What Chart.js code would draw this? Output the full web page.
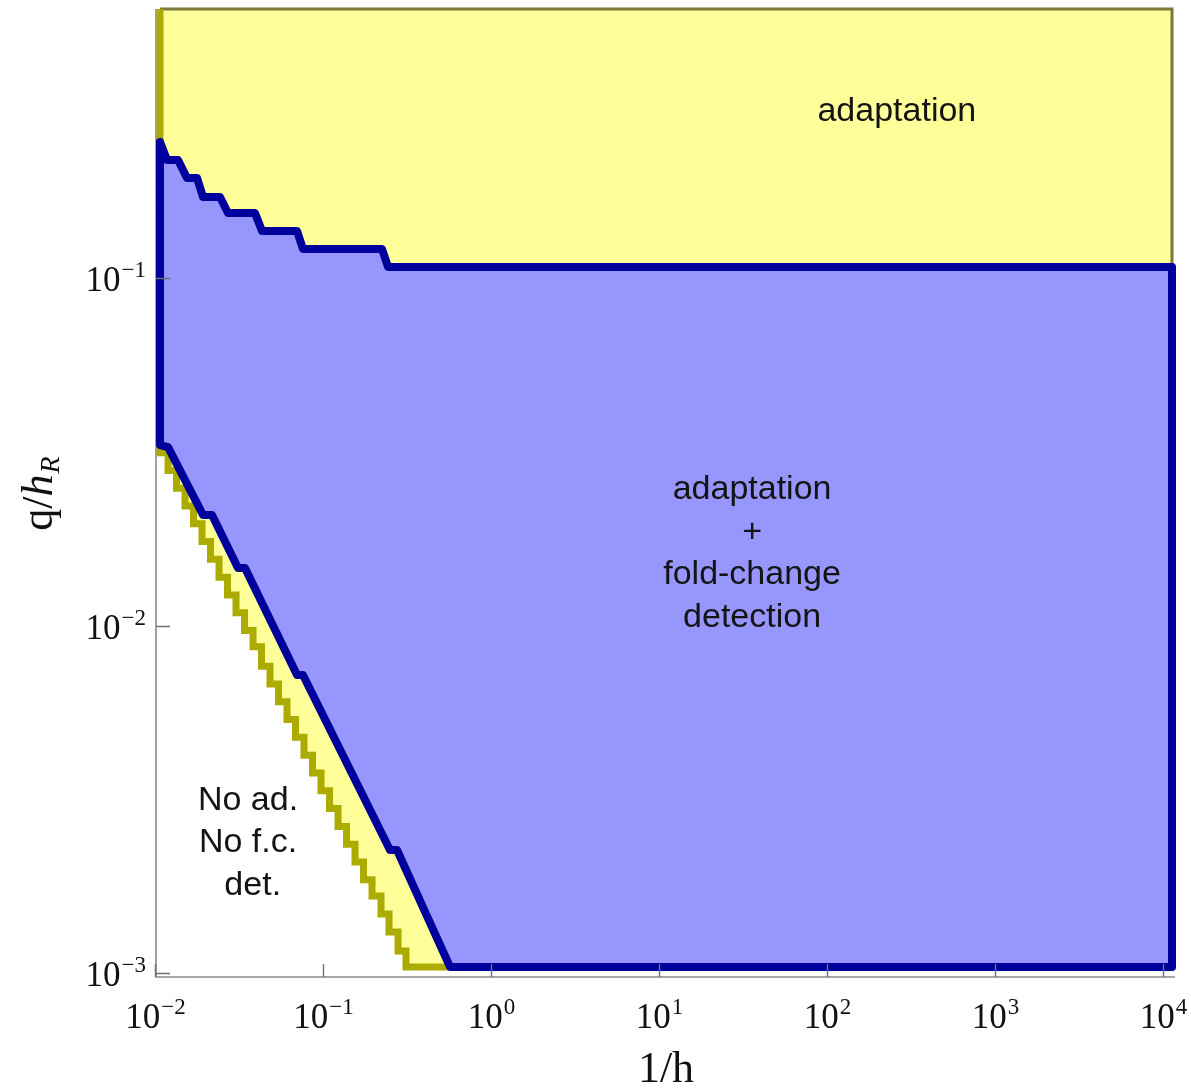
<!DOCTYPE html>
<html>
<head>
<meta charset="utf-8">
<title>adaptation / fold-change detection</title>
<script src="https://cdn.jsdelivr.net/npm/chart.js@4.4.1/dist/chart.umd.min.js"></script>
<style>
html, body { margin: 0; padding: 0; background: #fff; }
</style>
</head>
<body>
<canvas id="mycanvas" width="1191" height="1088"></canvas>
<script>
// axis ranges: 1/h (x) and q/hR (y)
var xMin = 0.01008, xMax = 11720;
var yMin = 0.000975, yMax = 0.5953;

var xTicks = [0.01, 0.1, 1, 10, 100, 1000, 10000];
var xTickExp = ['\u22122', '\u22121', '0', '1', '2', '3', '4'];
var yTicks = [0.001, 0.01, 0.1];
var yTickExp = ['\u22123', '\u22122', '\u22121'];

// edges of the computed region
var edgeLeft = 0.01065, edgeRight = 11250, edgeBottom = 0.001042;

// upper border of the adaptation + fold-change region
var upperX = [0.01065, 0.01172, 0.01363, 0.01542, 0.01769, 0.01920, 0.02424, 0.02704, 0.03916, 0.04310, 0.06965, 0.07557, 0.2233, 0.2424, 11250];
var upperY = [0.2466, 0.2188, 0.2188, 0.1942, 0.1942, 0.1713, 0.1713, 0.1540, 0.1540, 0.1367, 0.1367, 0.1213, 0.1213, 0.1077, 0.1077];

// lower border of the same region, from the bottom up
var lowerX = [0.5670, 0.2742, 0.2490, 0.07557, 0.06965, 0.03414, 0.03101, 0.02172, 0.01920, 0.01189, 0.01065];
var lowerY = [0.001042, 0.002262, 0.002262, 0.00721, 0.00721, 0.01466, 0.01466, 0.02083, 0.02083, 0.03266, 0.03311];

// staircase between "no adaptation" and "adaptation" (step corners, bottom up)
var stairX = [0.3102, 0.2780, 0.2457, 0.2202, 0.1947, 0.1733, 0.1542, 0.1373, 0.1222, 0.1087, 0.09676, 0.08612, 0.07663, 0.06821, 0.06071, 0.05403, 0.04809, 0.04280, 0.03811, 0.03391, 0.03018, 0.02686, 0.02391, 0.02128, 0.01894, 0.01686, 0.01501, 0.01335, 0.01189];
var stairY = [0.001158, 0.001314, 0.001481, 0.001668, 0.001857, 0.002089, 0.002350, 0.002645, 0.002977, 0.003348, 0.003768, 0.004240, 0.004772, 0.005368, 0.006039, 0.006797, 0.007646, 0.008700, 0.009681, 0.01089, 0.01226, 0.01379, 0.01552, 0.01746, 0.01964, 0.02211, 0.02487, 0.02798, 0.03148];

// build the point lists
function pairs(xs, ys) {
	var out = [];
	for (var i = 0; i < xs.length; i++) out.push({x: xs[i], y: ys[i]});
	return out;
}

var stairPts = [{x: stairX[0], y: edgeBottom}];
for (var k = 0; k < stairX.length; k++) {
	stairPts.push({x: stairX[k], y: stairY[k]});
	var nx = k + 1 < stairX.length ? stairX[k + 1] : edgeLeft;
	stairPts.push({x: nx, y: stairY[k]});
}

var bluePts = pairs(upperX, upperY)
	.concat([{x: edgeRight, y: edgeBottom}])
	.concat(pairs(lowerX, lowerY))
	.concat([{x: upperX[0], y: upperY[0]}]);

var yellowPts = [{x: edgeLeft, y: yMax}, {x: edgeRight, y: yMax}, {x: edgeRight, y: edgeBottom}]
	.concat(stairPts)
	.concat([{x: edgeLeft, y: yMax}]);

var olivePts = [{x: edgeLeft, y: yMax}]
	.concat(stairPts.slice().reverse())
	.concat([{x: lowerX[0], y: edgeBottom}]);

var edgePts = [{x: edgeLeft, y: yMax}, {x: edgeRight, y: yMax}, {x: edgeRight, y: upperY[upperY.length - 1]}];

// region labels (anchor in data coords, lines centred on it)
var regionLabels = [
	{lines: ['adaptation'], x: 259, y: 0.301},
	{lines: ['adaptation', '+', 'fold-change', 'detection'], x: 35.6, y: 0.01613},
	{lines: ['No ad.', 'No f.c.', ' det.'], x: 0.03557, y: 0.002369}
];

var serif = '"Liberation Serif", "Times New Roman", serif';

function drawPow(ctx, exp, x, y, align) {
	ctx.font = '35px ' + serif;
	var w1 = ctx.measureText('10').width;
	ctx.font = '23px ' + serif;
	var w2 = ctx.measureText(exp).width;
	var x0 = align === 'right' ? x - w1 - w2 - 1 : x - (w1 + w2 + 1) / 2;
	ctx.textAlign = 'left';
	ctx.textBaseline = 'alphabetic';
	ctx.font = '35px ' + serif;
	ctx.fillText('10', x0, y);
	ctx.font = '23px ' + serif;
	ctx.fillText(exp, x0 + w1 + 1, y - 14);
}

var frame = {
	id: 'frame',
	beforeDatasetsDraw: function(chart) {
		var ctx = chart.ctx, a = chart.chartArea;
		ctx.save();
		ctx.strokeStyle = '#8a8a8a';
		ctx.lineWidth = 1.6;
		ctx.beginPath();
		ctx.moveTo(a.left, a.top);
		ctx.lineTo(a.left, a.bottom);
		ctx.lineTo(a.right, a.bottom);
		ctx.stroke();
		ctx.restore();
	},
	afterDatasetsDraw: function(chart) {
		var ctx = chart.ctx, a = chart.chartArea;
		var xs = chart.scales.x, ys = chart.scales.y;
		ctx.save();
		ctx.strokeStyle = '#707070';
		ctx.lineWidth = 1.4;
		ctx.beginPath();
		xTicks.forEach(function(v) {
			var px = Math.round(xs.getPixelForValue(v)) + 0.5;
			ctx.moveTo(px, a.bottom);
			ctx.lineTo(px, a.bottom - 13);
		});
		yTicks.forEach(function(v) {
			var py = Math.round(ys.getPixelForValue(v)) + 0.5;
			ctx.moveTo(a.left, py);
			ctx.lineTo(a.left + 14, py);
		});
		ctx.stroke();

		ctx.fillStyle = '#111';
		xTicks.forEach(function(v, i) {
			drawPow(ctx, xTickExp[i], xs.getPixelForValue(v), a.bottom + 51, 'center');
		});
		yTicks.forEach(function(v, i) {
			drawPow(ctx, yTickExp[i], 146, ys.getPixelForValue(v) + 13, 'right');
		});

		// x title
		ctx.font = '44px ' + serif;
		ctx.textAlign = 'center';
		ctx.textBaseline = 'alphabetic';
		ctx.fillText('1/h', 666, 1082);

		// y title: q/h with subscript R, rotated
		ctx.save();
		ctx.translate(52, 494);
		ctx.rotate(-Math.PI / 2);
		var fR = '44px ' + serif;
		var fI = 'italic 44px ' + serif;
		var fS = 'italic 28px ' + serif;
		ctx.font = fR; var wq = ctx.measureText('q/').width;
		ctx.font = fI; var wh = ctx.measureText('h').width;
		ctx.font = fS; var wr = ctx.measureText('R').width;
		var sx = -(wq + wh + wr) / 2;
		ctx.textAlign = 'left';
		ctx.font = fR; ctx.fillText('q/', sx, 0);
		ctx.font = fI; ctx.fillText('h', sx + wq, 0);
		ctx.font = fS; ctx.fillText('R', sx + wq + wh + 1, 7);
		ctx.restore();

		// region labels
		ctx.font = '34px "Liberation Sans", Arial, sans-serif';
		ctx.textAlign = 'center';
		ctx.textBaseline = 'middle';
		ctx.fillStyle = '#141414';
		regionLabels.forEach(function(lb) {
			var cx = xs.getPixelForValue(lb.x), cy = ys.getPixelForValue(lb.y);
			var lh = 42.5;
			var y0 = cy - (lb.lines.length - 1) * lh / 2;
			lb.lines.forEach(function(t, j) {
				ctx.fillText(t, cx, y0 + j * lh);
			});
		});
		ctx.restore();
	}
};

var ctx = document.getElementById('mycanvas').getContext('2d');

var RegionChart = new Chart(ctx, {
	type: 'scatter',
	data: {
		datasets: [
			{
				label: 'adaptation + fold-change detection',
				data: bluePts,
				showLine: true,
				fill: 'shape',
				backgroundColor: 'rgb(150, 150, 252)',
				borderColor: '#00009c',
				borderWidth: 8,
				borderJoinStyle: 'round',
				borderCapStyle: 'round',
				clip: 6,
				order: 1
			},
			{
				label: 'adaptation border',
				data: olivePts,
				showLine: true,
				fill: false,
				borderColor: '#abab00',
				borderWidth: 7,
				borderJoinStyle: 'miter',
				clip: 6,
				order: 2
			},
			{
				label: 'plot edge',
				data: edgePts,
				showLine: true,
				fill: false,
				borderColor: '#7a7a3a',
				borderWidth: 3,
				clip: 6,
				order: 3
			},
			{
				label: 'adaptation',
				data: yellowPts,
				showLine: true,
				fill: 'shape',
				backgroundColor: '#ffff99',
				borderWidth: 0,
				order: 4
			}
		]
	},
	options: {
		responsive: false,
		animation: false,
		layout: { padding: { left: 156, right: 16, top: 9, bottom: 111 } },
		plugins: {
			legend: { display: false },
			tooltip: { enabled: false }
		},
		elements: {
			point: { radius: 0, hoverRadius: 0 },
			line: { tension: 0 }
		},
		scales: {
			x: { type: 'logarithmic', min: xMin, max: xMax, display: false },
			y: { type: 'logarithmic', min: yMin, max: yMax, display: false }
		}
	},
	plugins: [frame]
});
</script>
</body>
</html>
